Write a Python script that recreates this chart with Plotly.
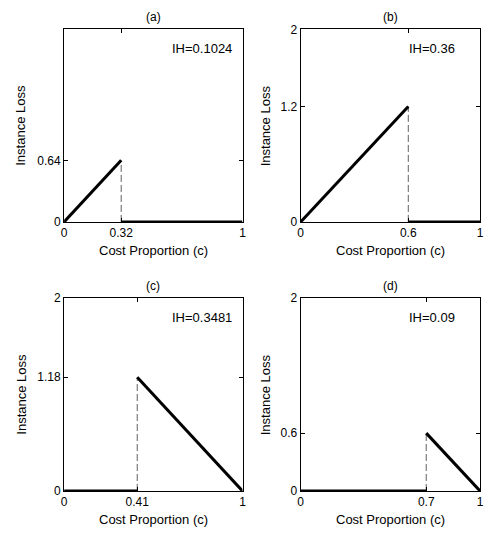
import plotly.graph_objects as go

panel_labels = ["(a)", "(b)", "(c)", "(d)"]
cost_points = [0.32, 0.6, 0.41, 0.7]
peak_losses = [0.64, 1.2, 1.18, 0.6]
ih_texts = ["IH=0.1024", "IH=0.36", "IH=0.3481", "IH=0.09"]
rising = [True, True, False, False]
y_tick_vals = [[0, 0.64], [0, 1.2, 2], [0, 1.18, 2], [0, 0.6, 2]]
y_tick_text = [["0", "0.64"], ["0", "1.2", "2"], ["0", "1.18", "2"], ["0", "0.6", "2"]]
x_tick_text = [["0", "0.32", "1"], ["0", "0.6", "1"], ["0", "0.41", "1"], ["0", "0.7", "1"]]

W, H = 487, 535
x_domains = [[62 / W, 243 / W], [302 / W, 484 / W]]
y_domains = [[1 - 220.7 / H, 1 - 23 / H], [1 - 497 / H, 1 - 299 / H]]

FONT = "Liberation Sans, Arial, Helvetica, sans-serif"

fig = go.Figure()
annotations = []
for i in range(4):
    row, col = divmod(i, 2)
    ax = "" if i == 0 else str(i + 1)
    xref, yref = "x" + ax, "y" + ax
    c0, pk = cost_points[i], peak_losses[i]
    if rising[i]:
        sx, sy = [0, c0], [0, pk]
        zx, zy = [c0, 1], [0, 0]
    else:
        sx, sy = [c0, 1], [pk, 0]
        zx, zy = [0, c0], [0, 0]
    fig.add_trace(go.Scatter(x=[c0, c0], y=[0, pk], mode="lines",
                             line=dict(color="#606060", width=1, dash="7px,3px"),
                             xaxis=xref, yaxis=yref, showlegend=False, hoverinfo="skip"))
    fig.add_trace(go.Scatter(x=sx, y=sy, mode="lines", line=dict(color="black", width=3),
                             xaxis=xref, yaxis=yref, showlegend=False))
    fig.add_trace(go.Scatter(x=zx, y=zy, mode="lines", line=dict(color="black", width=3),
                             xaxis=xref, yaxis=yref, showlegend=False))
    axis_common = dict(showline=True, linecolor="black", linewidth=1, mirror="ticks",
                       ticks="inside", ticklen=4, tickcolor="black", showgrid=False,
                       zeroline=False, tickfont=dict(family=FONT, size=12, color="black"))
    fig.layout["xaxis" + ax] = dict(domain=x_domains[col], range=[0, 1], anchor=yref,
                                    tickmode="array", tickvals=[0, c0, 1], ticktext=x_tick_text[i],
                                    **axis_common)
    fig.layout["yaxis" + ax] = dict(domain=y_domains[row], range=[0, 2], anchor=xref,
                                    tickmode="array", tickvals=y_tick_vals[i], ticktext=y_tick_text[i],
                                    **axis_common)
    x0, x1 = x_domains[col]
    y0, y1 = y_domains[row]
    xm = (x0 + x1) / 2
    annotations.append(dict(text=panel_labels[i], x=xm, y=y1, xref="paper", yref="paper",
                            xanchor="center", yanchor="bottom", yshift=3, showarrow=False,
                            font=dict(family=FONT, size=12, color="black")))
    annotations.append(dict(text="Cost Proportion (c)", x=xm, y=y0, xref="paper", yref="paper",
                            xanchor="center", yanchor="top", yshift=-19, showarrow=False,
                            font=dict(family=FONT, size=13, color="black")))
    annotations.append(dict(text="Instance Loss", x=x0, y=(y0 + y1) / 2, xref="paper", yref="paper",
                            xanchor="center", yanchor="middle", xshift=-43 if col == 0 else -35,
                            textangle=-90, showarrow=False,
                            font=dict(family=FONT, size=13, color="black")))
    annotations.append(dict(text=ih_texts[i], x=0.595, y=1.8, xref=xref, yref=yref,
                            xanchor="left", yanchor="middle", showarrow=False,
                            font=dict(family=FONT, size=13, color="black")))

fig.update_layout(width=W, height=H, margin=dict(l=0, r=0, t=0, b=0),
                  plot_bgcolor="white", paper_bgcolor="white", annotations=annotations)
fig.write_html("out.html", config={"displayModeBar": False},
               post_script="document.body.style.margin='0';document.body.style.overflow='hidden';")
